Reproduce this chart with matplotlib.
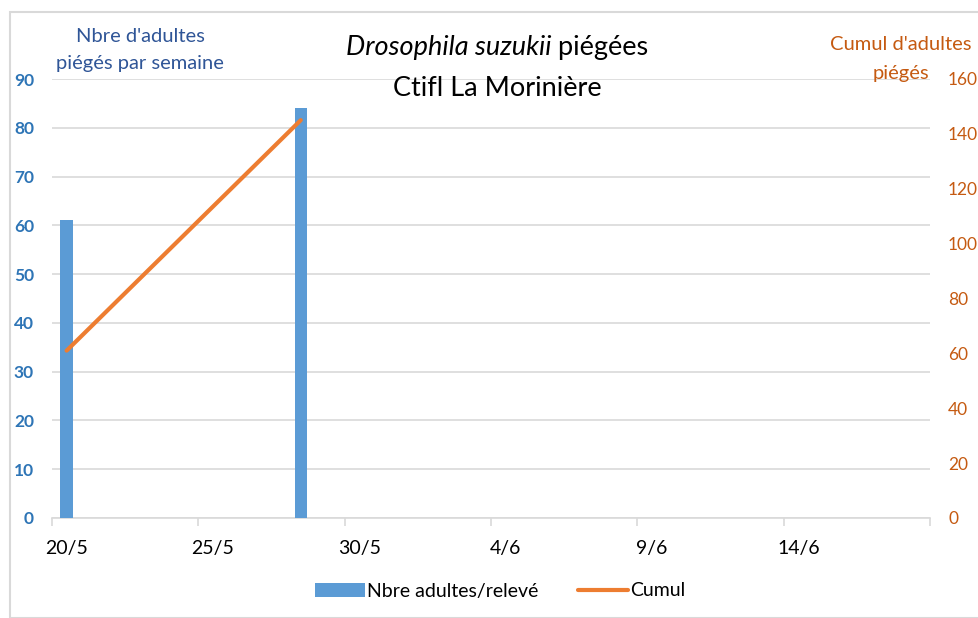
import matplotlib.pyplot as plt
import matplotlib.dates as mdates
import matplotlib.ticker as mticker
from matplotlib.patches import Rectangle
import pandas as pd

# data
dates = pd.to_datetime(["2019-05-20", "2019-05-28"])
adultes = [61, 84]
cumul = [61, 145]

x_start = pd.Timestamp("2019-05-20")
x_end = pd.Timestamp("2019-06-19")

blue = "#5B9BD5"
orange = "#ED7D31"
grid_col = "#D9D9D9"

plt.rcParams['font.family'] = ['Lato', 'DejaVu Sans']

fig = plt.figure(figsize=(9.79, 6.18), dpi=100)
ax = fig.add_axes([52 / 979, 100 / 618, 878 / 979, 439 / 618])
ax2 = ax.twinx()

# Excel draws the marks in the middle of the day
half = pd.Timedelta(hours=12)
pos = dates + half
ax.bar(pos, adultes, width=0.42, color=blue, zorder=3, label="Nbre adultes/relevé")
ax2.plot(pos, cumul, color=orange, lw=3, solid_capstyle='round', zorder=4, label="Cumul")

ax.set_xlim(x_start, x_end)
ax.set_ylim(0, 90)
ax2.set_ylim(0, 160)
ax.set_yticks(range(0, 91, 10))
ax2.set_yticks(range(0, 161, 20))

# tick marks at midnight, labels in the middle of the day
ticks = pd.date_range(x_start, x_end, freq="5D")
ax.set_xticks(ticks)
ax.xaxis.set_major_formatter(mticker.NullFormatter())
ax.set_xticks(ticks[:-1] + half, minor=True)
ax.xaxis.set_minor_formatter(mticker.FuncFormatter(
    lambda v, p: f"{mdates.num2date(v).day}/{mdates.num2date(v).month}"))

ax.grid(axis='y', color=grid_col, lw=1.2, zorder=0)
for a in (ax, ax2):
    for s in ("top", "left", "right"):
        a.spines[s].set_visible(False)
ax2.spines["bottom"].set_visible(False)
ax.spines["bottom"].set_color(grid_col)
ax.spines["bottom"].set_linewidth(1.2)

ax.tick_params(axis='x', which='major', length=6, color=grid_col, width=1.2)
ax.tick_params(axis='x', which='minor', length=0, pad=16, labelsize=14, labelcolor="black")
ax.tick_params(axis='y', length=0, pad=13, labelsize=12.5, labelcolor="#2E75B6")
for t in ax.get_yticklabels():
    t.set_fontweight('bold')
ax2.tick_params(axis='y', length=0, pad=13, labelsize=12.5, labelcolor="#C55A11")

# axis titles, one text per line
fig.text(140 / 979, 1 - 37 / 618, "Nbre d'adultes", ha='center', va='center',
         color="#2F5597", fontsize=14.5)
fig.text(140 / 979, 1 - 64 / 618, "piégés par semaine", ha='center', va='center',
         color="#2F5597", fontsize=14.5)
fig.text(901 / 979, 1 - 45 / 618, "Cumul d'adultes", ha='center', va='center',
         color="#C55A11", fontsize=14.5)
fig.text(901 / 979, 1 - 73 / 618, "piégés", ha='center', va='center',
         color="#C55A11", fontsize=14.5)

# title, italic species name followed by roman text
t1 = fig.text(0, 1 - 48 / 618, "Drosophila suzukii", ha='left', va='center', fontsize=19.5, style='italic')
t2 = fig.text(0, 1 - 48 / 618, " piégées", ha='left', va='center', fontsize=19.5)
fig.canvas.draw()
r = fig.canvas.get_renderer()
w1 = t1.get_window_extent(r).width / fig.bbox.width
w2 = t2.get_window_extent(r).width / fig.bbox.width
x0 = 497 / 979 - (w1 + w2) / 2
t1.set_x(x0)
t2.set_x(x0 + w1)
fig.text(497 / 979, 1 - 88 / 618, "Ctifl La Morinière", ha='center', va='center', fontsize=19.5)

# outer frame
fig.patches.append(Rectangle((10 / 979, 0), 1.0, 1 - 12 / 618, transform=fig.transFigure,
                             fill=False, edgecolor=grid_col, lw=1.5))

h1, l1 = ax.get_legend_handles_labels()
h2, l2 = ax2.get_legend_handles_labels()
fig.legend(h1 + h2, l1 + l2, loc='center', bbox_to_anchor=(500 / 979, 1 - 591 / 618), ncol=2,
           frameon=False, fontsize=14, handlelength=2.6, handletextpad=0.1, columnspacing=2)

fig.savefig("out.png", dpi=100)
